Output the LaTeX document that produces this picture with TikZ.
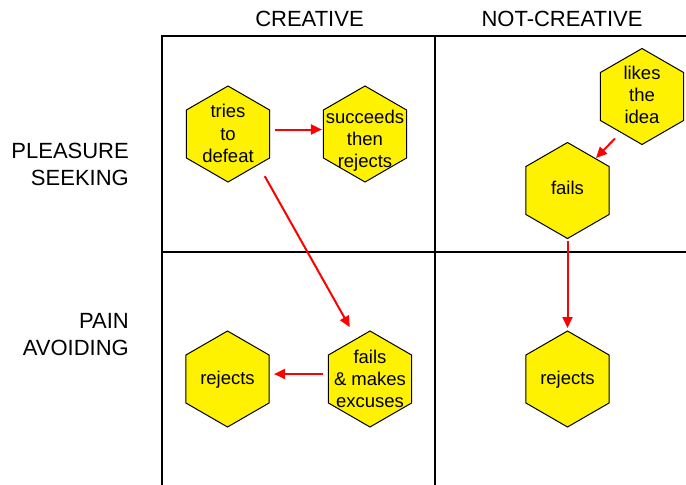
\documentclass[tikz,border=0pt]{standalone}
\usepackage{fontspec}
\setmainfont{Liberation Sans}
\usetikzlibrary{shapes.geometric,arrows.meta}
\begin{document}
\begin{tikzpicture}[x=1pt,y=-1pt,
  hexa/.style={regular polygon, regular polygon sides=6, shape border rotate=30,
    minimum size=96pt, inner sep=0pt, outer sep=0pt, draw=black, line width=1pt, fill=yellow},
  hextext/.style={font=\fontsize{18.5}{22.2}\selectfont, align=center, inner sep=0pt},
  head/.style={font=\fontsize{22}{27}\selectfont, inner sep=0pt},
  gridline/.style={line width=2pt, black},
  arr/.style={draw=red, line width=2pt, -{Triangle[length=11pt,width=10pt]}}]
\useasboundingbox (0,0) rectangle (686,485);

% quadrant grid
\coordinate (tl) at (162,35.5);
\coordinate (tm) at (434.7,35.5);
\coordinate (tr) at (686,35.5);
\coordinate (ml) at (162,252);
\coordinate (mr) at (686,252);
\coordinate (bl) at (162,485);
\coordinate (bm) at (434.7,485);
\draw[gridline] (bl) -- (tl) -- (tr);
\draw[gridline] (tm) -- (bm);
\draw[gridline] (ml) -- (mr);

% axis headings
\node[head, anchor=base] (creative) at (309.5,26) {CREATIVE};
\node[head, anchor=base] (notcreative) at (562,26) {NOT-CREATIVE};
\node[head, align=right, anchor=base east] (pleasure) at (129,185) {PLEASURE\\SEEKING};
\node[head, align=right, anchor=base east] (pain) at (129,355) {PAIN\\AVOIDING};

% hexagons
\node[hexa] (tries) at (228,134) {};
\node[hexa] (succ) at (365,134) {};
\node[hexa] (likes) at (642,96.5) {};
\node[hexa] (fails) at (567.5,190.5) {};
\node[hexa] (rej1) at (227.5,379) {};
\node[hexa] (fmx) at (370,379) {};
\node[hexa] (rej2) at (567.5,379) {};

\node[hextext] (triesT) at (228,133.5) {tries\\to\\defeat};
\node[hextext] (succT) at (365,140.5) {succeeds\\then\\rejects};
\node[hextext] (likesT) at (642,95) {likes\\the\\idea};
\node[hextext] (failsT) at (567.5,187.5) {fails};
\node[hextext] (rej1T) at (227.5,380) {rejects};
\node[hextext] (fmxT) at (370,379) {fails\\\& makes\\excuses};
\node[hextext] (rej2T) at (567.5,380) {rejects};

% connectors
\draw[arr, shorten <=5pt, shorten >=1.5pt] ([yshift=4.5pt]tries.east) -- ([yshift=4.5pt]succ.west);
\draw[arr, shorten <=48.4pt, shorten >=59.5pt] ([xshift=13pt]tries.center) -- ([xshift=9pt]fmx.center);
\draw[arr] ([xshift=-27pt,yshift=-42pt]likes.center) -- ([xshift=28.5pt,yshift=32.5pt]fails.center);
\draw[arr, shorten <=2.5pt, shorten >=3pt] (fails.south) -- (rej2.north);
\draw[arr, shorten <=5pt, shorten >=5pt] ([yshift=5pt]fmx.west) -- ([yshift=5pt]rej1.east);
\end{tikzpicture}
\end{document}
